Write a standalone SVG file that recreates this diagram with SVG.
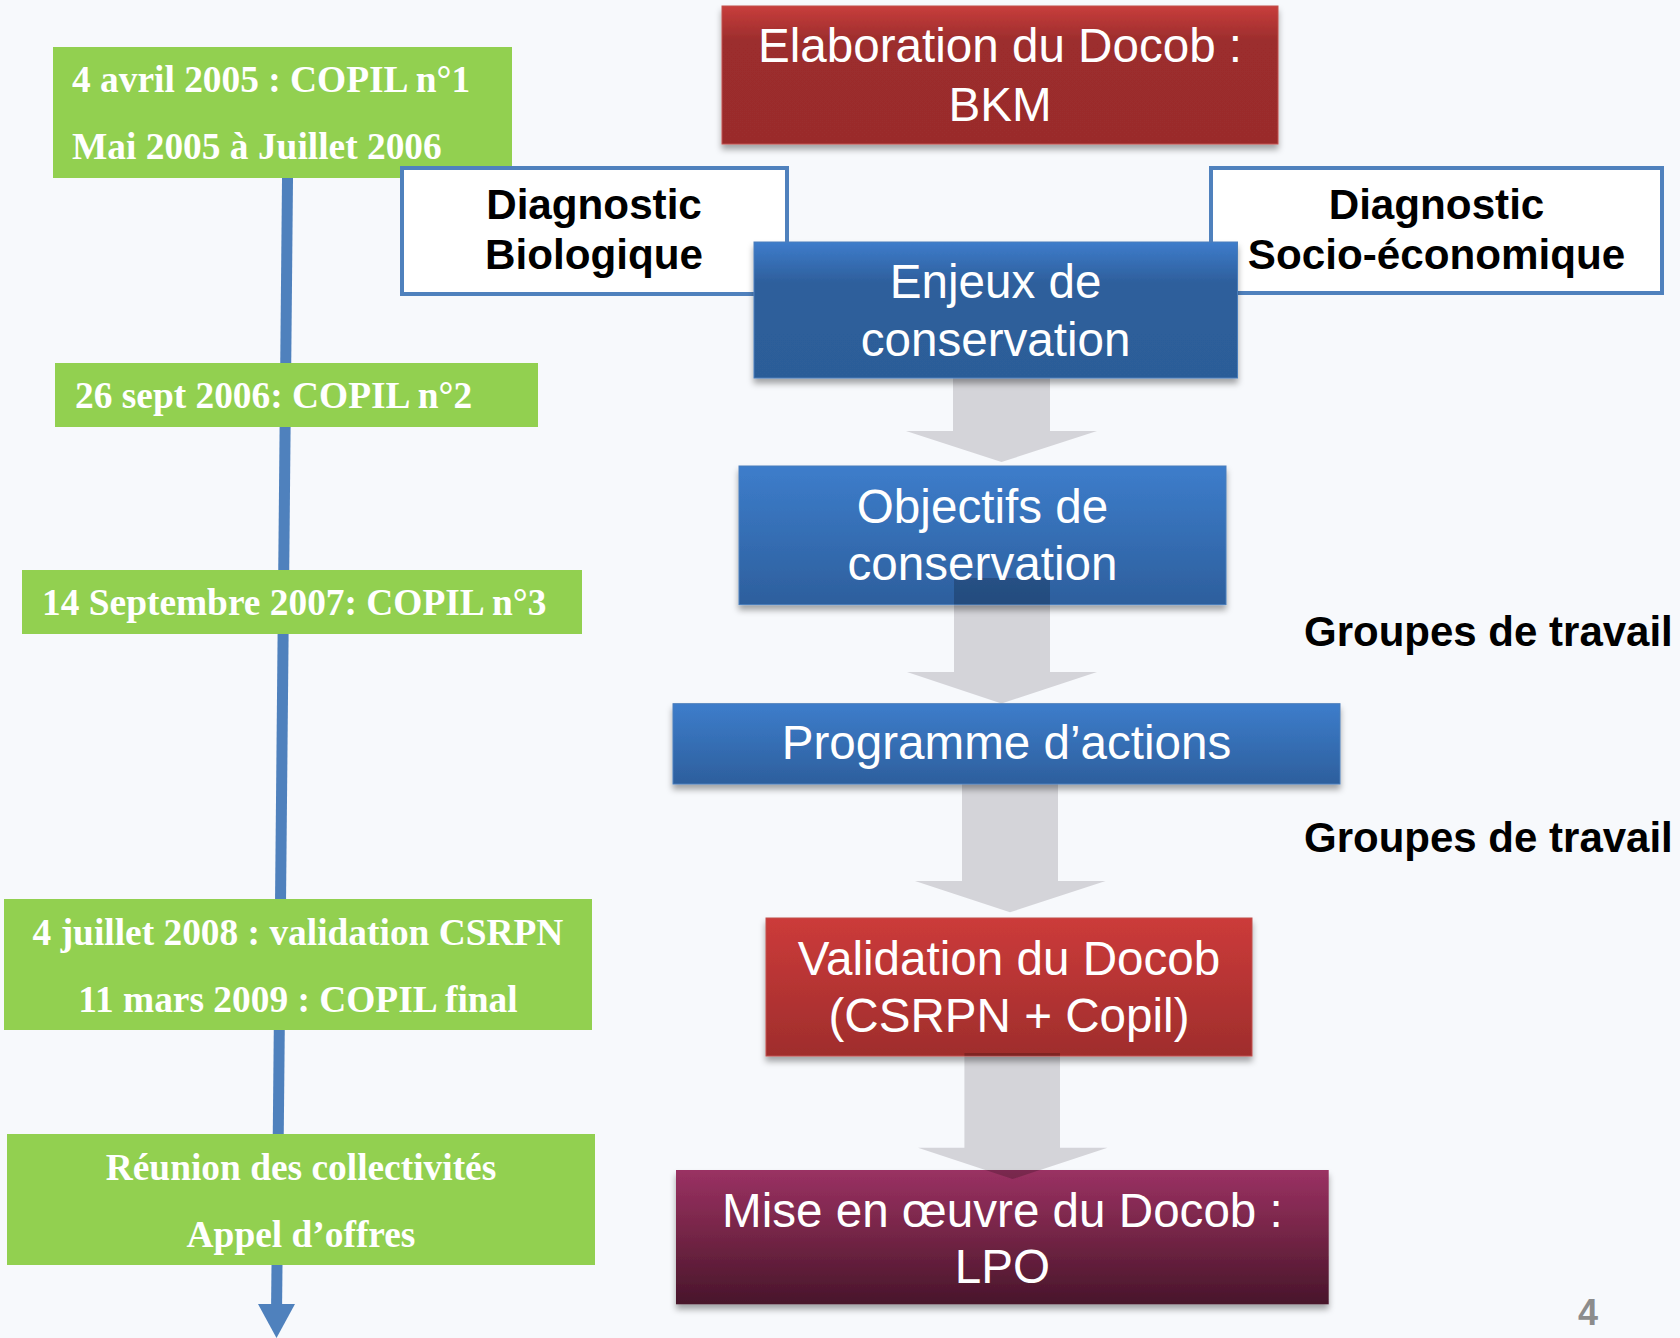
<svg xmlns="http://www.w3.org/2000/svg" width="1680" height="1338" viewBox="0 0 1680 1338">
<defs>
<style>
.g{fill:#92d050}
.gt{font-family:"Liberation Serif","Times New Roman",serif;font-weight:bold;font-size:37.4px;fill:#fff}
.wt{font-family:"Liberation Sans",Arial,sans-serif;font-size:47.6px;fill:#fff;text-anchor:middle}
.bt{font-family:"Liberation Sans",Arial,sans-serif;font-weight:bold;font-size:42.2px;fill:#000;text-anchor:middle}
.gr{font-family:"Liberation Sans",Arial,sans-serif;font-weight:bold;font-size:42px;fill:#000}
.arr{fill:#d4d4d9}
.ov{fill:#000;fill-opacity:0.2}
.diag{fill:#fff;stroke:#4f81bd;stroke-width:4}
</style>
<linearGradient id="red1" x1="0" y1="0" x2="0" y2="1">
<stop offset="0" stop-color="#c83e3c"/><stop offset="0.25" stop-color="#9c2d2d"/><stop offset="1" stop-color="#9a2c2c"/>
</linearGradient>
<linearGradient id="red2" x1="0" y1="0" x2="0" y2="1">
<stop offset="0" stop-color="#cc3b3a"/><stop offset="1" stop-color="#9f2d2c"/>
</linearGradient>
<linearGradient id="blue1" x1="0" y1="0" x2="0" y2="1">
<stop offset="0" stop-color="#3e7ccb"/><stop offset="0.3" stop-color="#2e5f9c"/><stop offset="1" stop-color="#2c5d98"/>
</linearGradient>
<linearGradient id="blue2" x1="0" y1="0" x2="0" y2="1">
<stop offset="0" stop-color="#3d7dcb"/><stop offset="1" stop-color="#2d5f9d"/>
</linearGradient>
<linearGradient id="plum" x1="0" y1="0" x2="0" y2="1">
<stop offset="0" stop-color="#9a3163"/><stop offset="0.45" stop-color="#772648"/><stop offset="1" stop-color="#48152b"/>
</linearGradient>
<filter id="sh" x="-5%" y="-10%" width="110%" height="130%">
<feDropShadow dx="0" dy="5" stdDeviation="3" flood-color="#000" flood-opacity="0.35"/>
</filter>
</defs>
<rect width="1680" height="1338" fill="#f7f9fc"/>

<g id="connectors">
<line x1="287.6" y1="170" x2="276.6" y2="1306" stroke="#4f81bd" stroke-width="11"/>
<polygon points="258,1304 295,1304 276.5,1338" fill="#4f81bd"/>
<polygon class="arr" points="953,378 1050,378 1050,431 1097,431 1001.5,462 906,431 953,431"/>
<polygon class="arr" points="954,578 1050,578 1050,672 1097,672 1001.5,703.5 907,672 954,672"/>
<polygon class="arr" points="962,784 1058,784 1058,881 1105.6,881 1010,912.3 915,881 962,881"/>
<polygon class="arr" points="964.4,1053 1060,1053 1060,1147.7 1107.5,1147.7 1012.6,1179 918,1147.7 964.4,1147.7"/>
</g>

<g id="copil1">
<rect class="g" x="53" y="47" width="459" height="131"/>
<text class="gt" x="72" y="91.7">4 avril 2005 : COPIL n°1</text>
<text class="gt" x="72" y="159">Mai 2005 à Juillet 2006</text>
</g>
<g id="copil2">
<rect class="g" x="55" y="363" width="483" height="64"/>
<text class="gt" x="75" y="408">26 sept 2006: COPIL n°2</text>
</g>
<g id="copil3">
<rect class="g" x="22" y="570" width="560" height="64"/>
<text class="gt" x="42" y="615.3">14 Septembre 2007: COPIL n°3</text>
</g>
<g id="csrpn">
<rect class="g" x="4" y="899" width="588" height="131"/>
<text class="gt" x="298" y="944.8" text-anchor="middle">4 juillet 2008 : validation CSRPN</text>
<text class="gt" x="298" y="1011.8" text-anchor="middle">11 mars 2009 : COPIL final</text>
</g>
<g id="reunion">
<rect class="g" x="7" y="1134" width="588" height="131"/>
<text class="gt" x="301" y="1180" text-anchor="middle">Réunion des collectivités</text>
<text class="gt" x="301" y="1246.7" text-anchor="middle">Appel d’offres</text>
</g>

<g id="elaboration">
<rect x="722" y="6" width="556" height="138" fill="url(#red1)" stroke="#c0504d" stroke-width="1" filter="url(#sh)"/>
<text class="wt" x="1000" y="62.3">Elaboration du Docob :</text>
<text class="wt" x="1000" y="120.7">BKM</text>
</g>
<g id="diag-bio">
<rect class="diag" x="402" y="168" width="385" height="126"/>
<text class="bt" x="594" y="219.3">Diagnostic</text>
<text class="bt" x="594" y="269.3">Biologique</text>
</g>
<g id="diag-socio">
<rect class="diag" x="1211" y="168" width="451" height="125"/>
<text class="bt" x="1436.5" y="219.3">Diagnostic</text>
<text class="bt" x="1436.5" y="269.3">Socio-économique</text>
</g>
<g id="enjeux">
<rect x="754" y="242" width="483.5" height="136" fill="url(#blue1)" stroke="#4a7ebb" stroke-width="1" filter="url(#sh)"/>
<text class="wt" x="995.6" y="297.7">Enjeux de</text>
<text class="wt" x="995.6" y="356">conservation</text>
</g>
<g id="objectifs">
<rect x="739" y="466" width="487" height="138.6" fill="url(#blue2)" stroke="#4a7ebb" stroke-width="1" filter="url(#sh)"/>
<rect class="ov" x="954" y="578" width="96" height="26.6"/>
<text class="wt" x="982.5" y="522.7">Objectifs de</text>
<text class="wt" x="982.5" y="580.1">conservation</text>
</g>
<g id="programme">
<rect x="673" y="703.7" width="667" height="80.3" fill="url(#blue2)" stroke="#4a7ebb" stroke-width="1" filter="url(#sh)"/>
<text class="wt" x="1006.5" y="759.2">Programme d’actions</text>
</g>
<g id="validation">
<rect x="766" y="918" width="486" height="138" fill="url(#red2)" stroke="#c0504d" stroke-width="1" filter="url(#sh)"/>
<rect class="ov" x="964.4" y="1053" width="95.6" height="3"/>
<text class="wt" x="1009" y="975">Validation du Docob</text>
<text class="wt" x="1009" y="1031.7">(CSRPN + Copil)</text>
</g>
<g id="mise">
<rect x="676" y="1170" width="652.7" height="134.3" fill="url(#plum)" filter="url(#sh)"/>
<polygon class="ov" points="985.4,1170 1039.8,1170 1012.6,1179"/>
<text class="wt" x="1002.4" y="1226.7">Mise en œuvre du Docob :</text>
<text class="wt" x="1002.4" y="1283.3">LPO</text>
</g>

<g id="labels">
<text class="gr" x="1304" y="646">Groupes de travail</text>
<text class="gr" x="1304" y="851.8">Groupes de travail</text>
<text x="1588" y="1325" text-anchor="middle" font-family="Liberation Sans,Arial,sans-serif" font-weight="bold" font-size="36" fill="#8c8c8c">4</text>
</g>
</svg>
